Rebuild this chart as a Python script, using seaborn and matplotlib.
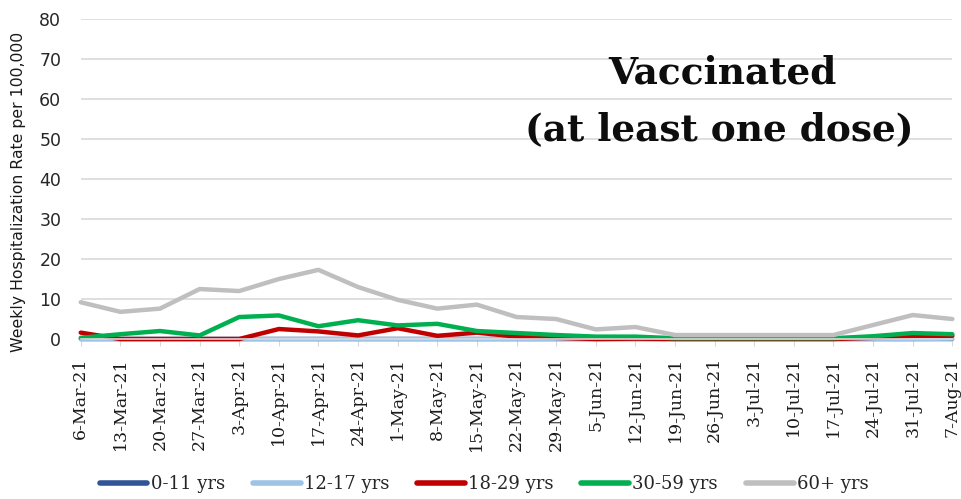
import matplotlib
matplotlib.use("Agg")
import matplotlib.pyplot as plt
import seaborn as sns
import pandas as pd

# week labels
weeks = ["6-Mar-21", "13-Mar-21", "20-Mar-21", "27-Mar-21", "3-Apr-21", "10-Apr-21",
         "17-Apr-21", "24-Apr-21", "1-May-21", "8-May-21", "15-May-21", "22-May-21",
         "29-May-21", "5-Jun-21", "12-Jun-21", "19-Jun-21", "26-Jun-21", "3-Jul-21",
         "10-Jul-21", "17-Jul-21", "24-Jul-21", "31-Jul-21", "7-Aug-21"]

# weekly hospitalization rate per 100,000 (vaccinated)
age_0_11 = [0, 0, 0, 0, 0, 0, 0, 0, 0, 0, 0, 0, 0, 0, 0, 0, 0, 0, 0, 0, 0, 0, 0]
age_12_17 = [0, 0, 0, 0, 0, 0, 0, 0, 0, 0, 0, 0, 0, 0, 0, 0, 0, 0, 0, 0, 0, 0, 0.1]
age_18_29 = [1.6, 0, 0, 0, 0, 2.5, 1.9, 0.9, 2.7, 0.8, 1.6, 0.6, 0.3, 0, 0.1, 0, 0, 0,
             0, 0, 0.3, 0.8, 0.8]
age_30_59 = [0.3, 1.2, 2.0, 0.9, 5.5, 5.9, 3.2, 4.7, 3.4, 3.8, 2.0, 1.5, 1.0, 0.6, 0.6,
             0.2, 0.2, 0.2, 0.2, 0.2, 0.7, 1.5, 1.2]
age_60_plus = [9.2, 6.8, 7.6, 12.5, 12.0, 15.0, 17.3, 13.0, 9.8, 7.6, 8.6, 5.5, 5.0, 2.4,
               3.0, 1.0, 1.0, 1.0, 1.0, 1.0, 3.5, 6.0, 5.0]

groups = ["0-11 yrs", "12-17 yrs", "18-29 yrs", "30-59 yrs", "60+ yrs"]
colors = ["#2F5597", "#9DC3E6", "#C00000", "#00B050", "#BFBFBF"]

series = [age_0_11, age_12_17, age_18_29, age_30_59, age_60_plus]
rows = []
for g, vals in zip(groups, series):
    for i, v in enumerate(vals):
        rows.append({"idx": i, "rate": v, "group": g})
df = pd.DataFrame(rows)

sns.set_style("white")
plt.rcParams['font.family'] = ['DejaVu Sans']

fig = plt.figure(figsize=(9.61, 4.99), dpi=100)
ax = fig.add_axes([0.084, 0.3206, 0.907, 0.641])

sns.lineplot(data=df, x="idx", y="rate", hue="group", hue_order=groups,
             palette=dict(zip(groups, colors)), linewidth=3.2, ax=ax,
             legend=True, clip_on=False)

ax.set_xlim(0, len(weeks) - 1)
ax.set_ylim(0, 80)
ax.set_yticks(range(0, 81, 10))
ax.yaxis.grid(True, color="#D9D9D9", linewidth=1.2)
ax.set_axisbelow(True)
for s in ["top", "right", "left"]:
    ax.spines[s].set_visible(False)
ax.spines["bottom"].set_color("#D9D9D9")
ax.spines["bottom"].set_linewidth(1.2)

ax.set_xticks(range(len(weeks)))
ax.set_xticklabels(weeks, rotation=90, fontsize=12.5, color="#1a1a1a",
                   family="DejaVu Serif")
ax.tick_params(axis="x", length=5, color="#D9D9D9", pad=8, direction="out", bottom=True)
ax.tick_params(axis="y", length=0, pad=14, labelsize=12.5, labelcolor="#262626")

ax.set_xlabel("")
ax.set_ylabel("Weekly Hospitalization Rate per 100,000", family="DejaVu Sans",
              fontsize=11.3, color="#1a1a1a", labelpad=8)
ax.yaxis.set_label_coords(-0.063, 0.46)

fig.text(0.752, 1 - 83 / 499, "Vaccinated", ha="center", va="baseline",
         fontsize=27, fontweight="bold", family="DejaVu Serif", color="#0d0d0d")
fig.text(0.749, 1 - 140 / 499, "(at least one dose)", ha="center", va="baseline",
         fontsize=27, fontweight="bold", family="DejaVu Serif", color="#0d0d0d")

handles, labels = ax.get_legend_handles_labels()
ax.legend_.remove()
for h in handles:
    h.set_linewidth(4)
fig.legend(handles, labels, loc="center", bbox_to_anchor=(0.5036, 0.03), ncol=5,
           frameon=False, handlelength=2.65, handletextpad=0.17, columnspacing=1.55,
           prop={"family": "DejaVu Serif", "size": 13})

fig.savefig("out.png", dpi=100)
